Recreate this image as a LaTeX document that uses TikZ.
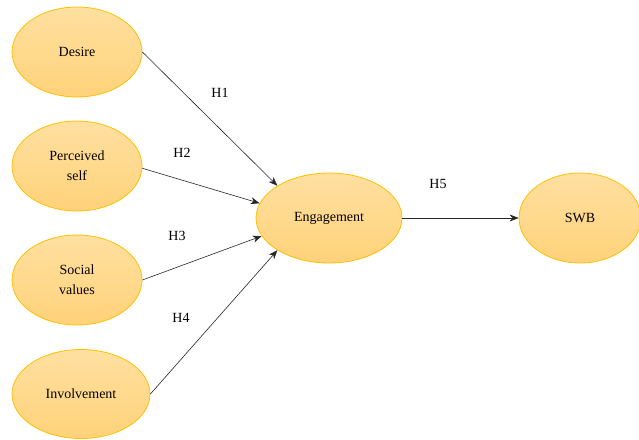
\documentclass[tikz,border=0pt]{standalone}
\usepackage{fontspec}
\setmainfont{Liberation Serif}
\usetikzlibrary{shapes.geometric,arrows.meta}
\definecolor{ellfillt}{HTML}{FFE0A0}
\definecolor{ellfillb}{HTML}{FFD27A}
\definecolor{elldraw}{HTML}{FFC000}
\tikzset{
  construct/.style={ellipse, draw=elldraw, line width=0.8pt, top color=ellfillt, bottom color=ellfillb,
    inner sep=0pt, align=center, font=\fontsize{14}{20}\selectfont},
  hlabel/.style={font=\fontsize{14}{16}\selectfont, inner sep=0pt},
  link/.style={-{Stealth[length=9pt,width=7pt]}, line width=0.6pt, black!85}
}
\begin{document}
\begin{tikzpicture}[x=1pt,y=-1pt]
\useasboundingbox (0,0) rectangle (639,439);
\node[construct, minimum width=130pt, minimum height=90pt] (desire) at (77,52) {Desire};
\node[construct, minimum width=130pt, minimum height=90pt] (self) at (77,166) {Perceived\\self};
\node[construct, minimum width=130pt, minimum height=90pt] (social) at (77,280) {Social\\values};
\node[construct, minimum width=138pt, minimum height=89pt] (inv) at (81,394) {Involvement};
\node[construct, minimum width=146pt, minimum height=90pt] (eng) at (329,218) {Engagement};
\node[construct, minimum width=122pt, minimum height=90pt] (swb) at (580,218) {SWB};
\draw[link] (desire.east) -- (eng.148);
\draw[link] (self.-2) -- (eng.168);
\draw[link] (social.east) -- (eng.195);
\draw[link] (inv.east) -- (eng.212);
\draw[link] (eng.east) -- (swb.west);
\node[hlabel] (h1) at (220,93) {H1};
\node[hlabel] (h2) at (182,153) {H2};
\node[hlabel] (h3) at (177,236) {H3};
\node[hlabel] (h4) at (181,318) {H4};
\node[hlabel] (h5) at (438,184) {H5};
\end{tikzpicture}
\end{document}
